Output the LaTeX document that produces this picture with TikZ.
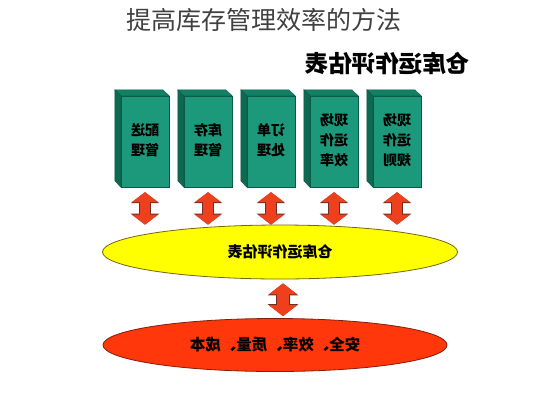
\documentclass[tikz,border=0pt]{standalone}
\usepackage{fontspec}
\usepackage{graphicx}
\usetikzlibrary{arrows.meta,shapes.geometric}
\newfontfamily\cjk{Noto Sans CJK SC}
\newcommand\flipped[1]{\scalebox{-1}[1]{#1}}

\begin{document}
\begin{tikzpicture}[x=1pt,y=-1pt,
    facefront/.style={fill=boxgreen, draw=boxedge, line width=0.4pt, minimum width=48pt, minimum height=91pt, inner sep=0pt, font=\cjk\bfseries\fontsize{14}{20}\selectfont},
    facetop/.style={fill=boxtop, draw=boxedge, line width=0.4pt},
    faceside/.style={fill=boxside, draw=boxedge, line width=0.4pt},
    twoway/.style={draw=arrowred, line width=10pt, shorten <=5pt,
        {Triangle[width=26pt,length=10pt]}-{Triangle[width=26pt,length=10pt]},
        preaction={draw=arrowedge, line width=11.4pt,
        {Triangle[width=28pt,length=11pt]}-{Triangle[width=28pt,length=11pt]}}},
    bigway/.style={draw=arrowred, line width=12pt, shorten <=4pt, shorten >=2pt,
        {Triangle[width=28pt,length=11pt]}-{Triangle[width=28pt,length=11pt]},
        preaction={draw=arrowedge, line width=13.4pt,
        {Triangle[width=30pt,length=12pt]}-{Triangle[width=30pt,length=12pt]}}},
    oval/.style={ellipse, inner sep=0pt, line width=0.8pt, font=\cjk\bfseries}]

    % Define colors
    \definecolor{boxgreen}{RGB}{27,153,122}
    \definecolor{boxtop}{RGB}{18,128,100}
    \definecolor{boxside}{RGB}{12,106,82}
    \definecolor{boxedge}{RGB}{10,90,70}
    \definecolor{arrowred}{RGB}{238,64,28}
    \definecolor{arrowedge}{RGB}{110,45,40}
    \definecolor{evalyellow}{RGB}{255,255,0}
    \definecolor{yellowedge}{RGB}{120,100,10}
    \definecolor{basered}{RGB}{255,55,10}
    \definecolor{rededge}{RGB}{130,30,10}

    \useasboundingbox (0,0) rectangle (533,400);

    % Title
    \node[font=\cjk\fontsize{25}{30}\selectfont, text=black!75] (title) at (263.5,20) {提高库存管理效率的方法};
    \node[font=\cjk\bfseries\fontsize{23.5}{28}\selectfont] (hd) at (387.5,64) {\flipped{仓库运作评估表}};

    %-------------
    % Boxes
    \foreach \i/\txt in {1/{配送\\管理},2/{库存\\管理},3/{订单\\处理},4/{现场\\运作\\效率},5/{现场\\运作\\规则}}{
        \node[facefront] (b\i) at ({82+63*\i},141.5) {\flipped{\begin{tabular}{@{}c@{}}\txt\end{tabular}}};
        \filldraw[facetop] (b\i.north west) -- ++(-6,-6) -- ++(48,0) -- (b\i.north east) -- cycle;
        \filldraw[faceside] (b\i.north west) -- ++(-6,-6) -- ++(0,91) -- (b\i.south west) -- cycle;
    }

    %-------------
    % Ovals
    \node[oval, fill=evalyellow, draw=yellowedge, minimum width=355pt, minimum height=54pt, font=\cjk\bfseries\fontsize{15}{18}\selectfont] (ev) at (280,252) {\flipped{仓库运作评估表}};
    \node[oval, fill=basered, draw=rededge, minimum width=344pt, minimum height=53pt, font=\cjk\bfseries\fontsize{15.5}{18}\selectfont] (er) at (275,345) {\flipped{安全、效率、质量、成本}};

    %-------------
    % Arrows
    \foreach \i in {1,...,5}
        \draw[twoway] (b\i.south) -- (b\i.south |- ev.north);
    \draw[bigway] ([xshift=3pt]ev.south) -- ([xshift=3pt]ev.south |- er.north);

\end{tikzpicture}
\end{document}
